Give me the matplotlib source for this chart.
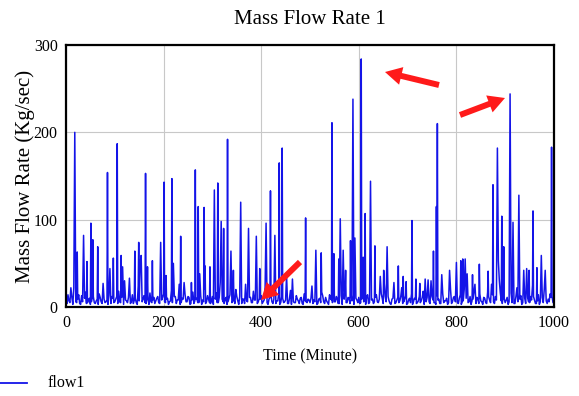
import matplotlib
matplotlib.use("Agg")
import matplotlib.pyplot as plt
from matplotlib.patches import FancyArrowPatch, ArrowStyle
from matplotlib.lines import Line2D

# ---- data ----
# baseline samples at t = 0, 4, 8, ... 1000
baseline = [
    8,14,5,11,22,6,9,4,13,7,17,5,10,6,12,4,9,15,6,11,5,8,13,4,10,
    6,12,18,5,9,30,7,11,4,14,8,5,24,10,6,13,4,9,16,5,11,7,12,4,8,
    15,5,10,6,19,4,12,8,26,5,9,14,6,11,4,17,7,10,5,13,8,21,6,9,4,
    12,7,16,5,28,9,4,11,6,14,5,10,20,7,12,4,9,15,6,11,5,18,8,4,10,
    13,6,22,5,9,14,4,11,7,16,5,10,6,12,4,19,8,5,13,7,10,4,15,6,9,
    5,24,8,12,4,10,17,6,11,5,14,8,30,6,9,4,13,7,21,5,10,16,6,25,8,
    11,5,18,7,12,4,26,9,6,14,5,35,10,28,6,12,4,9,16,5,11,7,22,6,13,
    4,10,15,6,9,5,12,7,18,4,11,6,30,8,5,13,9,4,15,7,10,5,20,6,12,
    8,4,14,6,20,10,5,12,7,18,4,9,15,6,11,5,17,8,26,6,12,9,30,7,14,
    5,11,6,16,9,4,22,7,13,5,10,18,6,12,25,8,4,14,6,11,20,7,9,15,12,
    10,
]
# baseline samples at t = 2, 6, 10, ... 998
baseline_mid = [
    4,7,12,3,9,5,14,3,6,10,4,8,3,12,5,7,3,11,4,9,6,3,8,12,5,
    9,4,6,11,3,8,5,13,6,4,10,3,7,4,9,5,12,3,6,8,4,10,5,3,11,
    6,9,3,7,5,12,4,8,3,10,5,6,12,3,8,4,9,5,11,3,6,4,13,5,7,
    3,9,5,11,4,6,8,3,10,5,7,4,12,3,6,9,4,7,3,11,5,8,4,6,9,
    4,8,5,3,11,6,9,4,7,3,12,5,8,4,10,3,6,5,9,4,11,3,7,5,8,
    10,4,6,3,9,5,13,4,7,3,10,5,6,12,4,8,3,9,5,11,4,7,3,10,5,
    4,9,6,3,14,5,8,4,11,6,9,15,4,12,5,7,3,10,4,8,5,12,4,9,3,
    8,5,3,10,4,7,5,11,3,6,9,4,12,5,3,8,4,10,5,7,3,9,4,11,6,
    5,10,3,7,4,12,6,3,9,5,11,4,7,3,10,4,12,5,14,4,8,5,16,4,9,
    8,3,10,5,4,12,6,9,3,7,4,11,5,8,12,4,7,3,10,5,9,4,6,11,5,
]
peak_time = [
    10,18,23,36,43,51,55,65,76,85,90,97,105,113,116,130,141,149,152,154,
    163,167,177,194,201,205,217,220,235,242,257,265,271,274,283,285,295,
    304,311,318,323,331,338,343,358,368,374,390,397,410,419,428,437,443,
    452,464,491,512,523,545,549,559,562,568,573,583,588,592,605,609,613,
    624,633,651,658,672,681,691,697,709,717,725,736,742,753,759,761,770,
    786,800,809,813,818,822,833,838,847,865,875,884,886,893,897,910,916,
    928,938,944,949,957,965,974,982,995,
]
peak_flow = [
    22,200,63,82,52,96,77,69,27,154,44,56,187,59,46,33,64,74,49,59,
    153,46,53,74,143,36,147,50,81,28,28,157,115,38,114,47,46,
    134,142,98,90,192,64,42,120,26,90,81,44,96,133,82,165,182,
    36,32,102,65,62,211,61,55,101,65,42,76,238,79,284,57,107,
    144,70,42,69,28,47,35,29,99,32,27,32,31,64,115,210,37,
    42,51,53,55,55,38,37,26,49,41,140,182,53,104,69,244,97,
    128,42,44,42,110,45,59,42,183,
]

series = {i * 4: v for i, v in enumerate(baseline)}
series.update({i * 4 + 2: v for i, v in enumerate(baseline_mid)})
for t, v in zip(peak_time, peak_flow):
    series[t] = v
time = sorted(series)
flow1 = [series[t] for t in time]

# ---- figure ----
W, H = 579, 396
fig = plt.figure(figsize=(W / 100, H / 100), dpi=100)
serif = ["Liberation Serif", "DejaVu Serif"]
blue = "#1414e8"

ax = fig.add_axes([66 / W, 1 - 307 / H, (554 - 66) / W, (307 - 45) / H])
ax.plot(time, flow1, color=blue, lw=1.1)
ax.set_xlim(0, 1000)
ax.set_ylim(0, 300)
ax.set_xticks([0, 200, 400, 600, 800, 1000])
ax.set_yticks([0, 100, 200, 300])
ax.grid(True, color="#c8c8c8", lw=0.8)
ax.set_axisbelow(True)
ax.tick_params(length=0, pad=6, labelsize=11.5)
for lab in ax.get_xticklabels() + ax.get_yticklabels():
    lab.set_family(serif)
for s in ax.spines.values():
    s.set_linewidth(1.6)
    s.set_color("black")

ax.set_title("Mass Flow Rate 1", family=serif, fontsize=15, pad=15)
ax.set_xlabel("Time (Minute)", family=serif, fontsize=11.5, labelpad=12)
ax.set_ylabel("Mass Flow Rate (Kg/sec)", family=serif, fontsize=15)
ax.yaxis.set_label_coords(-0.064, 0.5)

# legend below the chart
fig.add_artist(Line2D([0 / W, 27 / W], [1 - 383 / H, 1 - 383 / H],
                      color=blue, lw=1.3, transform=fig.transFigure))
fig.text(48 / W, 1 - 383 / H, "flow1", family=serif, fontsize=11.5,
         va="center", ha="left")

# red annotation arrows (figure pixels)
style = ArrowStyle.Simple(head_length=12, head_width=13, tail_width=4.3)
for (x0, y0), (x1, y1) in [((439, 85), (385, 72)),
                           ((460, 115), (505, 98)),
                           ((300, 262), (261, 300))]:
    arr = FancyArrowPatch((x0, H - y0), (x1, H - y1), arrowstyle=style,
                          mutation_scale=1, transform=None, color="#ff1a1a",
                          lw=0, shrinkA=0, shrinkB=0)
    fig.add_artist(arr)

fig.savefig("out.png", dpi=100)
